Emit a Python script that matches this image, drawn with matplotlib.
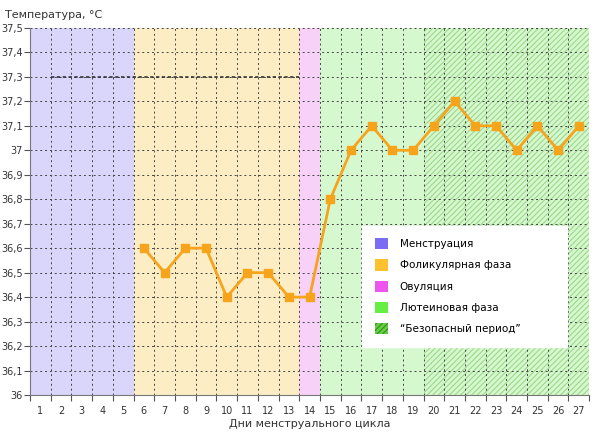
import numpy as np
import matplotlib.pyplot as plt
from matplotlib.patches import Patch

plt.rcParams['font.family'] = ['DejaVu Sans']
plt.rcParams['hatch.linewidth'] = 0.8

days = list(range(1, 28))
temp_days = list(range(6, 28))
temps = [36.6, 36.5, 36.6, 36.6, 36.4, 36.5, 36.5, 36.4, 36.4, 36.8, 37.0,
         37.1, 37.0, 37.0, 37.1, 37.2, 37.1, 37.1, 37.0, 37.1, 37.0, 37.1]

# phases: (first day, last day, fill colour, legend colour, label)
phases = [
    (1, 5, '#d9d5fb', '#7b6cf6', 'Менструация'),
    (6, 13, '#fcedc4', '#fdc02f', 'Фоликулярная фаза'),
    (14, 14, '#f7d1f7', '#ee55ee', 'Овуляция'),
    (15, 27, '#d6f8cf', '#66ee44', 'Лютеиновая фаза'),
]
safe_start, safe_end = 20, 27
yticks = [36.0, 36.1, 36.2, 36.3, 36.4, 36.5, 36.6, 36.7, 36.8, 36.9,
          37.0, 37.1, 37.2, 37.3, 37.4, 37.5]
ytick_labels = ['36', '36,1', '36,2', '36,3', '36,4', '36,5', '36,6', '36,7',
                '36,8', '36,9', '37', '37,1', '37,2', '37,3', '37,4', '37,5']

fig = plt.figure(figsize=(6, 4.36), dpi=100)
ax = fig.add_axes([0.05, 0.094, 0.932, 0.842])

for start, end, fill, _, _ in phases:
    ax.axvspan(start - 0.5, end + 0.5, color=fill, lw=0, zorder=0)
ax.axvspan(safe_start - 0.5, safe_end + 0.5, facecolor='none',
           edgecolor='#9ed68c', hatch='//////', lw=0, zorder=0.5)

# grid lines between days
for x in np.arange(0.5, 28, 1):
    ax.axvline(x, color='#444444', lw=0.7, ls=(0, (2, 3)), zorder=1)
for y in yticks[1:]:
    ax.axhline(y, color='#444444', lw=0.7, ls=(0, (2, 3)), zorder=1)
ax.plot([1.5, 13.5], [37.3, 37.3], color='#333333', lw=1.2,
        ls=(0, (2, 1.5)), zorder=1)

ax.plot(temp_days, temps, color='#f5a41c', lw=2, marker='s', ms=5.5,
        zorder=3)

ax.set_xlim(0.5, 27.5)
ax.set_ylim(36.0, 37.5)
ax.set_xticks(np.arange(0.5, 28, 1))
ax.set_xticklabels([])
ax.set_xticks(days, minor=True)
ax.set_xticklabels([str(d) for d in days], minor=True, fontsize=7,
                   color='#333333')
ax.tick_params(axis='x', which='minor', length=0, pad=8)
ax.tick_params(axis='x', which='major', length=4, color='#555555')
ax.set_yticks(yticks)
ax.set_yticklabels(ytick_labels, fontsize=7, color='#333333')
ax.tick_params(axis='y', length=4, color='#555555', pad=1)

for s in ['top', 'right']:
    ax.spines[s].set_visible(False)
for s in ['left', 'bottom']:
    ax.spines[s].set_color('#777777')

ax.set_xlabel('Дни менструального цикла', fontsize=8, color='#333333',
              labelpad=2)
fig.text(0.008, 0.965, 'Температура, °C', fontsize=8, color='#333333',
         va='center')

handles = [Patch(facecolor=lc, edgecolor='none', label=lab)
           for _, _, _, lc, lab in phases]
handles.append(Patch(facecolor='#66cc44', edgecolor='#2f8f1f', hatch='//////',
                     lw=0, label='“Безопасный период”'))
leg = ax.legend(handles=handles, loc='lower left', mode='expand',
                bbox_to_anchor=(0.594, 0.131, 0.367, 0.34), fontsize=7.5,
                frameon=True, fancybox=False, framealpha=1, edgecolor='white',
                handlelength=1.3, handleheight=1.3, labelspacing=0.95,
                borderpad=1.2, handletextpad=1.1, borderaxespad=0)
leg.set_zorder(5)

fig.savefig('out.png', dpi=100)
